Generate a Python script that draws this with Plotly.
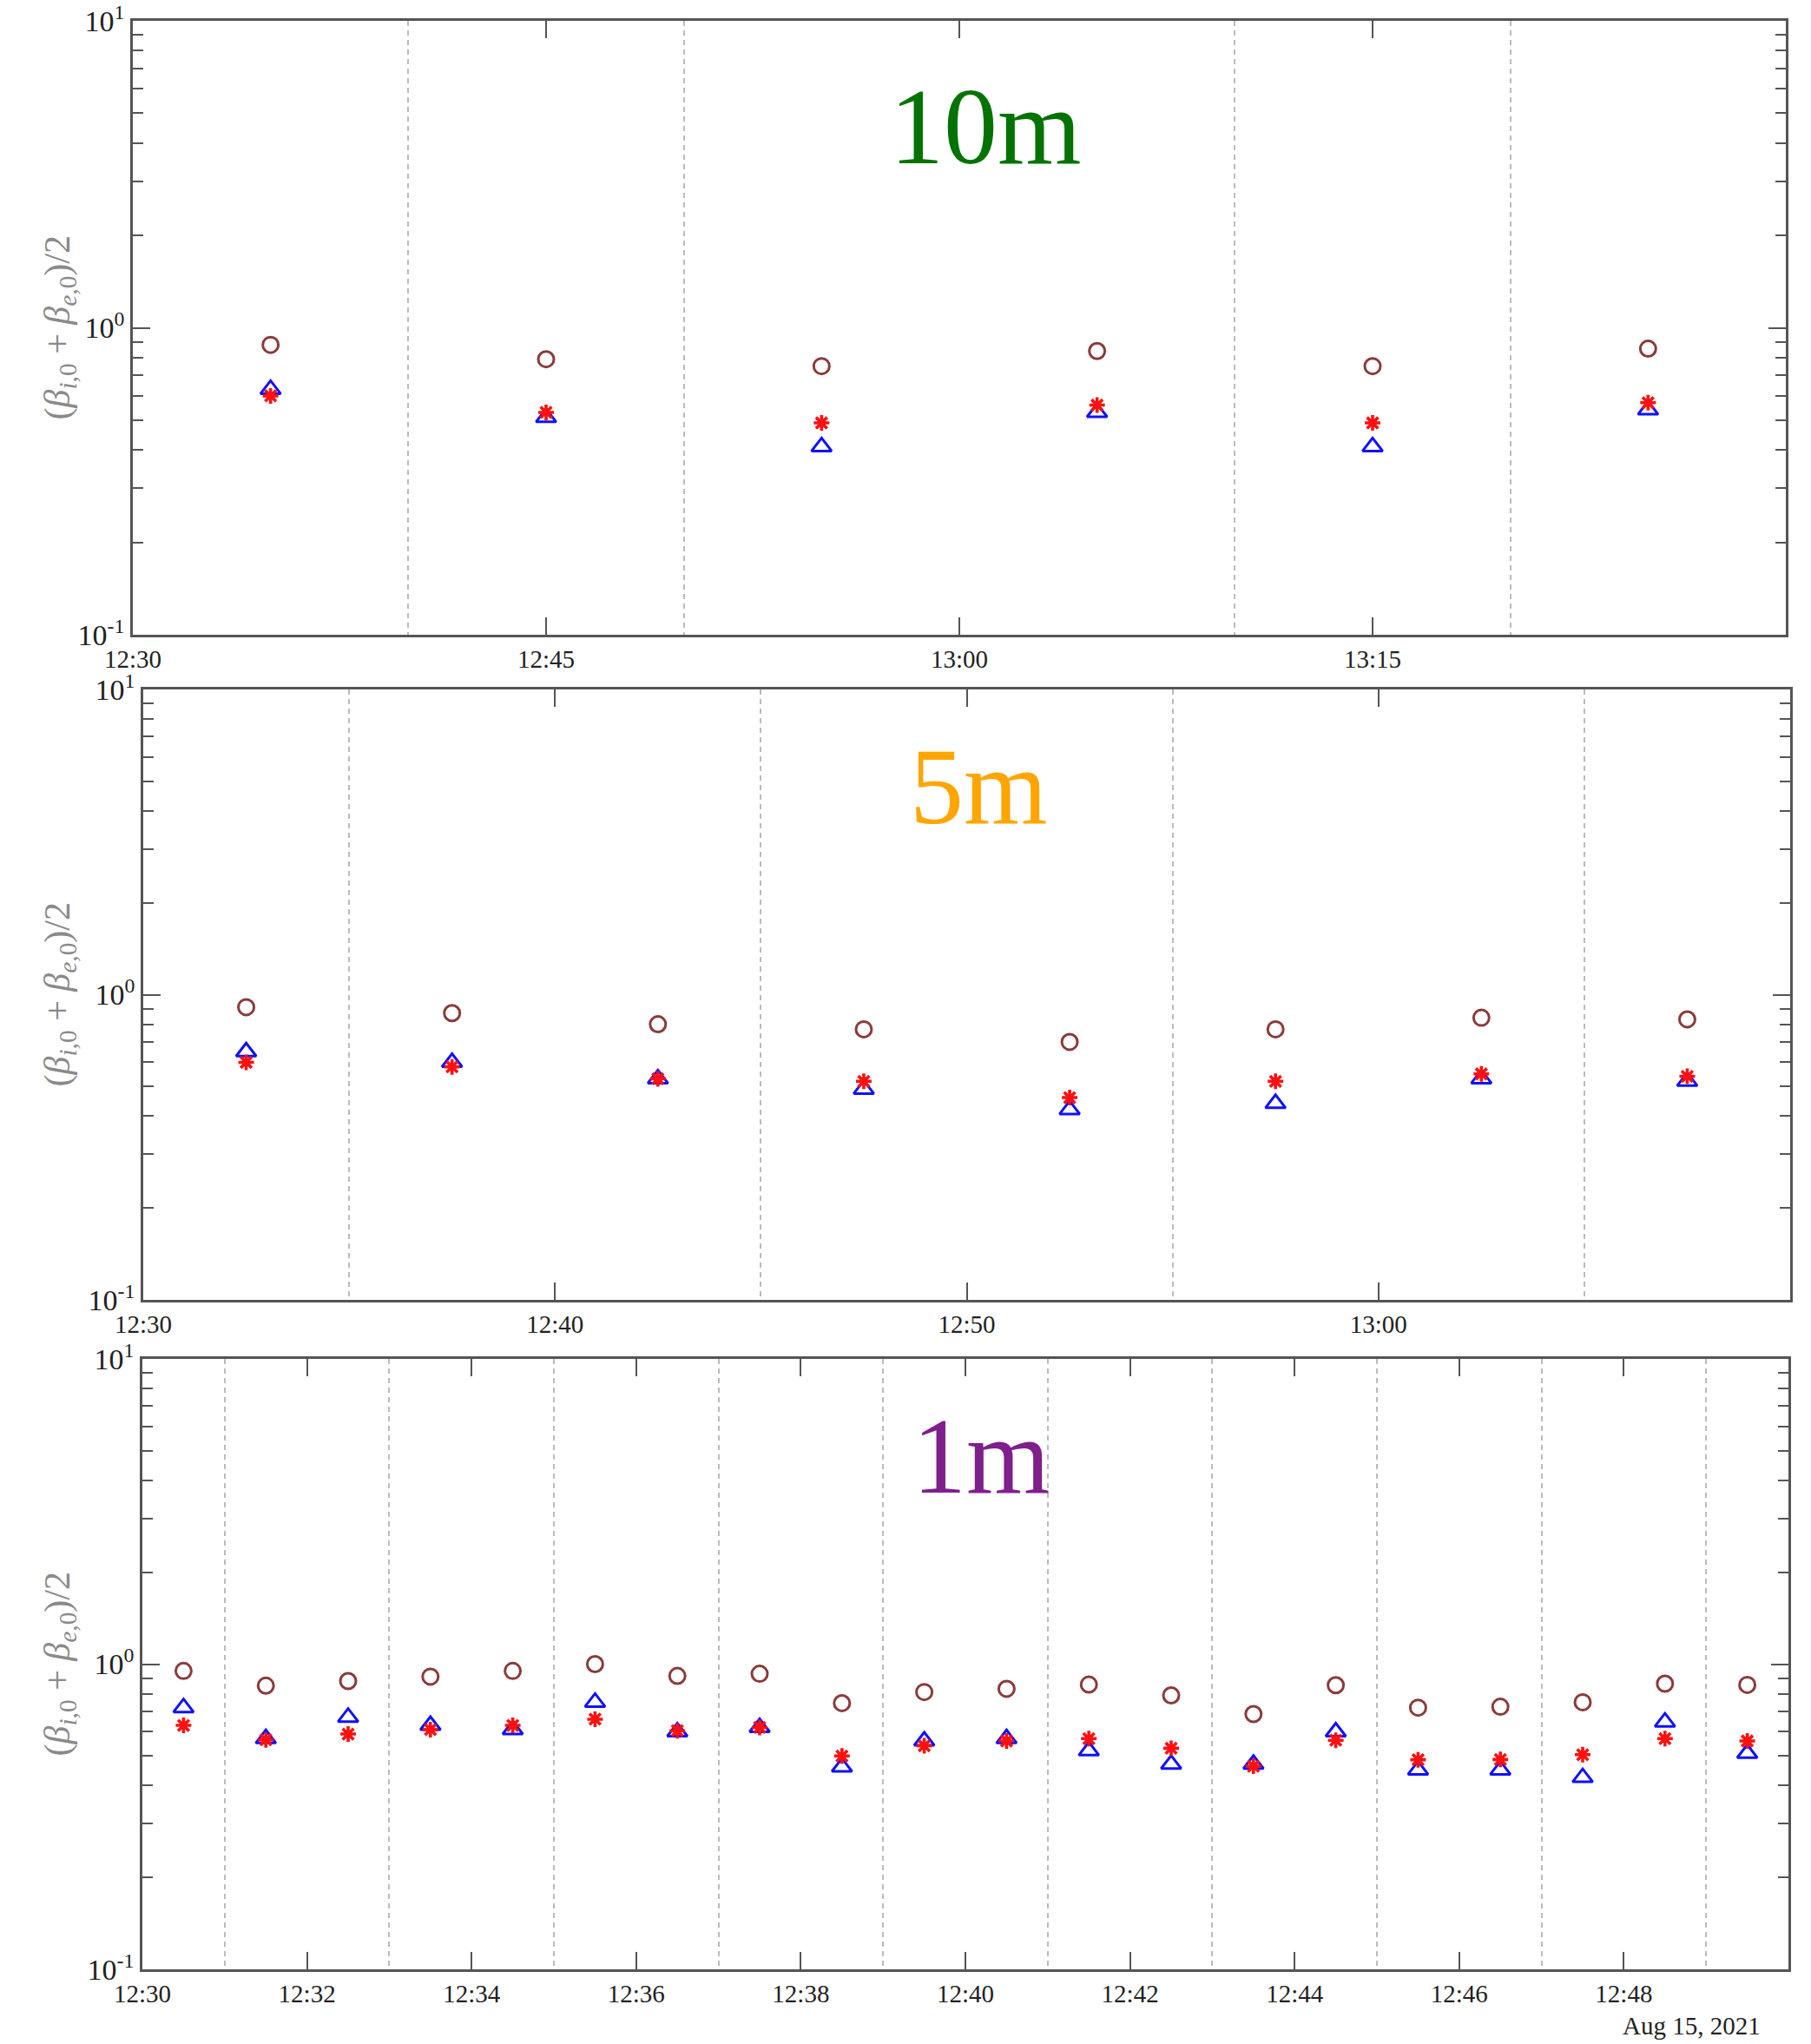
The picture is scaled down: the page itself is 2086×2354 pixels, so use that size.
import plotly.graph_objects as go

# ---- data: mean plasma beta (beta_i0 + beta_e0)/2 for three averaging windows ----
t10 = ["2021-08-15 12:35", "2021-08-15 12:45", "2021-08-15 12:55",
       "2021-08-15 13:05", "2021-08-15 13:15", "2021-08-15 13:25"]
circ10 = [0.88, 0.79, 0.75, 0.84, 0.75, 0.855]
tri10 = [0.63, 0.51, 0.41, 0.53, 0.41, 0.54]
star10 = [0.60, 0.53, 0.49, 0.56, 0.49, 0.57]

t5 = ["2021-08-15 12:32:30", "2021-08-15 12:37:30", "2021-08-15 12:42:30",
      "2021-08-15 12:47:30", "2021-08-15 12:52:30", "2021-08-15 12:57:30",
      "2021-08-15 13:02:30", "2021-08-15 13:07:30"]
circ5 = [0.91, 0.87, 0.80, 0.77, 0.70, 0.77, 0.84, 0.83]
tri5 = [0.65, 0.60, 0.53, 0.49, 0.42, 0.44, 0.53, 0.52]
star5 = [0.60, 0.58, 0.53, 0.52, 0.46, 0.52, 0.55, 0.54]

t1 = ["2021-08-15 12:%02d:30" % m for m in range(30, 50)]
circ1 = [0.95, 0.85, 0.88, 0.91, 0.95, 1.00, 0.915, 0.93, 0.745, 0.81,
         0.83, 0.857, 0.79, 0.686, 0.853, 0.72, 0.725, 0.75, 0.863, 0.855]
tri1 = [0.72, 0.57, 0.67, 0.63, 0.61, 0.75, 0.60, 0.62, 0.46, 0.56,
        0.57, 0.52, 0.47, 0.47, 0.60, 0.45, 0.45, 0.425, 0.646, 0.51]
star1 = [0.63, 0.565, 0.59, 0.61, 0.63, 0.66, 0.605, 0.62, 0.50, 0.54,
         0.56, 0.57, 0.53, 0.463, 0.563, 0.486, 0.487, 0.505, 0.57, 0.56]

panel_titles = ["10m", "5m", "1m"]
title_colors = ["#047304", "#FFA500", "#7F1F8C"]
y_label = "(<i>β</i><sub><i>i</i>,0</sub> + <i>β</i><sub><i>e</i>,0</sub>)/2"
date_label = "Aug 15, 2021"

W, H = 2086, 2354
SERIF = "Liberation Serif, Times New Roman, serif"
AXIS_COL = "#555555"

# panel boxes in pixels: (left, right, top, bottom)
boxes = [(153, 2057, 24, 731), (165, 2062, 794, 1497), (164, 2060, 1565, 2268)]
xranges = [("2021-08-15 12:30", "2021-08-15 13:30"),
           ("2021-08-15 12:30", "2021-08-15 13:10"),
           ("2021-08-15 12:30", "2021-08-15 12:50")]
major_dt = [15 * 60000, 10 * 60000, 2 * 60000]
grid_dt = [10 * 60000, 5 * 60000, 1 * 60000]

panels = [(t10, circ10, tri10, star10), (t5, circ5, tri5, star5), (t1, circ1, tri1, star1)]

fig = go.Figure()
minor_y = [v * 0.1 for v in range(2, 10)] + [float(v) for v in range(2, 10)]

for i, (tt, c, tr, st) in enumerate(panels):
    n = "" if i == 0 else str(i + 1)
    xa, ya = "x" + n, "y" + n
    fig.add_trace(go.Scatter(x=tt, y=c, mode="markers", xaxis=xa, yaxis=ya,
                             marker=dict(symbol="circle-open", size=18, color="#8B3A3A",
                                         line=dict(width=3, color="#8B3A3A")),
                             showlegend=False))
    fig.add_trace(go.Scatter(x=tt, y=tr, mode="markers", xaxis=xa, yaxis=ya,
                             marker=dict(symbol="triangle-up-open", size=20, color="#1010FF",
                                         line=dict(width=3, color="#1010FF")),
                             showlegend=False))
    fig.add_trace(go.Scatter(x=tt, y=st, mode="markers", xaxis=xa, yaxis=ya,
                             marker=dict(symbol="asterisk-open", size=15, color="#FF1010",
                                         line=dict(width=3.6, color="#FF1010")),
                             showlegend=False))

    l, r, t, b = boxes[i]
    xdom = [l / W, r / W]
    ydom = [1 - b / H, 1 - t / H]
    xkey = "xaxis" + n
    ykey = "yaxis" + n
    fig.layout[xkey] = dict(
        domain=xdom, anchor=ya, type="date", range=list(xranges[i]), automargin=False,
        tick0="2021-08-15 12:30", dtick=major_dt[i], tickformat="%H:%M",
        ticks="inside", ticklen=20, tickwidth=2, tickcolor=AXIS_COL,
        showline=True, linecolor=AXIS_COL, linewidth=2.5, mirror="ticks",
        showgrid=False, zeroline=False,
        tickfont=dict(family=SERIF, size=29, color="#222222"),
        minor=dict(tick0="2021-08-15 12:30", dtick=grid_dt[i], showgrid=True,
                   gridcolor="#BBBBBB", gridwidth=2, griddash="6px,5px", ticks=""),
    )
    fig.layout[ykey] = dict(
        domain=ydom, anchor=xa, type="log", range=[-1, 1], automargin=False,
        tickmode="array", tickvals=[0.1, 1, 10],
        ticktext=["10<sup>-1</sup>", "10<sup>0</sup>", "10<sup>1</sup>"],
        ticks="inside", ticklen=20, tickwidth=2, tickcolor=AXIS_COL,
        showline=True, linecolor=AXIS_COL, linewidth=2.5, mirror="ticks",
        showgrid=False, zeroline=False,
        tickfont=dict(family=SERIF, size=34, color="#222222"),
        minor=dict(tickmode="array", tickvals=minor_y, ticks="inside", ticklen=12,
                   tickwidth=2, tickcolor=AXIS_COL, showgrid=False),
    )

annotations = []
title_pos = [(1135, 146), (1127, 906), (1130, 1678)]
for i in range(3):
    l, r, t, b = boxes[i]
    annotations.append(dict(
        text=y_label, textangle=-90, xref="paper", yref="paper",
        x=68 / W, y=1 - ((t + b) / 2) / H, xanchor="center", yanchor="middle",
        showarrow=False, font=dict(family=SERIF, size=42, color="#8A8A8A")))
    px, py = title_pos[i]
    annotations.append(dict(
        text=panel_titles[i], xref="paper", yref="paper",
        x=px / W, y=1 - py / H, xanchor="center", yanchor="middle",
        showarrow=False, font=dict(family=SERIF, size=124, color=title_colors[i])))

annotations.append(dict(
    text=date_label, xref="paper", yref="paper", x=1948 / W, y=1 - 2333 / H,
    xanchor="center", yanchor="middle", showarrow=False,
    font=dict(family=SERIF, size=29, color="#222222")))

fig.update_layout(
    width=W, height=H, margin=dict(l=0, r=0, t=0, b=0, autoexpand=False),
    paper_bgcolor="white", plot_bgcolor="white",
    annotations=annotations, showlegend=False,
)

fig.write_html("out.html")
